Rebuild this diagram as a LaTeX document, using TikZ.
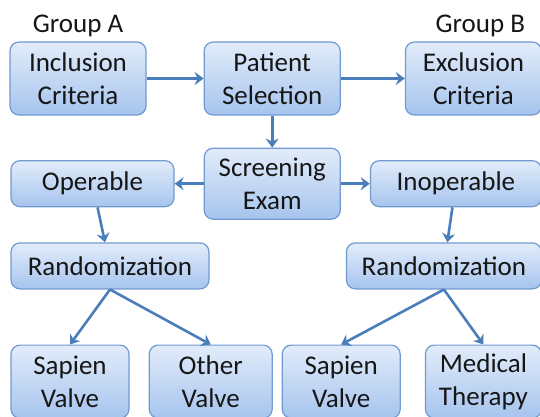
\documentclass[tikz,border=0pt]{standalone}
\usepackage{fontspec}
\setmainfont{Carlito}
\usetikzlibrary{arrows.meta,positioning}
\definecolor{boxline}{RGB}{112, 154, 208}
\definecolor{boxtop}{RGB}{226, 236, 250}
\definecolor{boxbottom}{RGB}{166, 196, 238}
\definecolor{arrowblue}{RGB}{74, 126, 187}
\definecolor{textgray}{RGB}{22, 22, 22}
\begin{document}
\begin{tikzpicture}[
        x=1pt, y=1pt,
        node distance=30pt,
        box/.style={
            draw=boxline,
            line width=1.2pt,
            rounded corners=9pt,
            top color=boxtop,
            bottom color=boxbottom,
            text=textgray,
            align=center,
            inner sep=0pt,
            font=\fontsize{27}{33}\selectfont
        },
        tall/.style={box, minimum width=136pt, minimum height=73pt},
        flat/.style={box, minimum height=46pt},
        leaf/.style={box, minimum width=118pt, minimum height=73pt},
        grouplabel/.style={text=textgray, inner sep=0pt, font=\fontsize{27}{33}\selectfont},
        link/.style={draw=arrowblue, line width=2.6pt, -{Stealth[length=9pt, width=13pt, inset=3pt]}}
    ]

        \useasboundingbox (0,0) rectangle (540,-417);

        % first row
        \node (1) [tall] at (78,-78.5) {Inclusion\\Criteria};
        \node (2) [tall, right=57pt of 1] {Patient\\Selection};
        \node (3) [tall, right=64pt of 2] {Exclusion\\Criteria};

        \node (a) [grouplabel, above=4pt of 1] {Group A};
        \node (b) [grouplabel, above=4pt of 3, xshift=7pt] {Group B};

        % screening row
        \node (4) [tall, minimum height=71pt, below=32pt of 2] {Screening\\Exam};
        \node (5) [flat, minimum width=163pt, left=29pt of 4] {Operable};
        \node (6) [flat, minimum width=171pt, right=29pt of 4] {Inoperable};

        % randomization
        \node (7) [flat, minimum width=198pt, below=35pt of 5.south west, anchor=north west] {Randomization};
        \node (8) [flat, minimum width=195pt, below=35pt of 6.south east, anchor=north east] {Randomization};

        % arms
        \node (9) [leaf, below=55pt of 7.south west, anchor=north west] {Sapien\\Valve};
        \node (10) [leaf, minimum width=123pt, right=19pt of 9] {Other\\Valve};
        \node (12) [leaf, minimum width=116pt, below=55pt of 8.south east, anchor=north east] {Medical\\Therapy};
        \node (11) [leaf, left=24pt of 12] {Sapien\\Valve};

        \draw[link] (1) -- (2);
        \draw[link] (2) -- (3);
        \draw[link] (2) -- (4);
        \draw[link] (4) -- (5);
        \draw[link] (4) -- (6);
        \draw[link] (5) -- (7);
        \draw[link] (6) -- (8);
        \draw[link] (7.south) -- (9.north);
        \draw[link] (7.south) -- (10.north);
        \draw[link] (8.south) -- (11.north);
        \draw[link] (8.south) -- (12.north);
    \end{tikzpicture}
\end{document}
